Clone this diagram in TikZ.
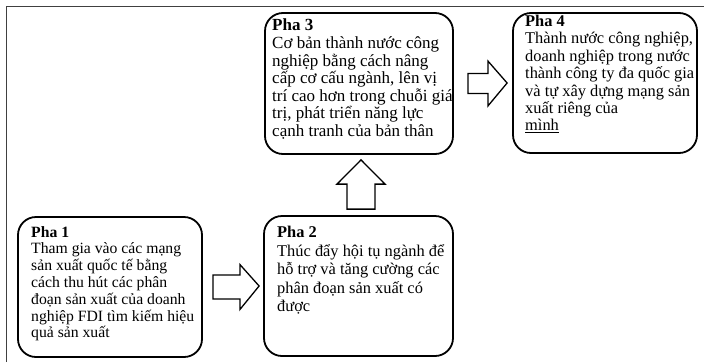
\documentclass[tikz,border=0pt]{standalone}
\usepackage{fontspec}
\setmainfont{Liberation Serif}
\usetikzlibrary{calc}
\tikzset{
  phasebox/.style={draw=black, line width=1.8pt, rounded corners=18pt, inner sep=0pt},
  phasetext/.style={anchor=north west, inner sep=0pt, align=left},
  blockarrow/.style={draw=black, line width=1.3pt, fill=white, line join=miter},
  frameline/.style={draw=black!75, line width=1pt}
}
\begin{document}
\begin{tikzpicture}[x=1pt,y=-1pt]
\useasboundingbox (0,0) rectangle (704,362);
% outer frame (top and left edges)
\coordinate (fTL) at (6,6);
\coordinate (fTR) at (704,6);
\coordinate (fBL) at (6,362);
\draw[frameline] (fBL) -- (fTL) -- (fTR);

% boxes
\node[phasebox, minimum width=184pt, minimum height=140pt] (b1) at (110,287) {};
\node[phasebox, minimum width=189pt, minimum height=140pt] (b2) at (358.5,286) {};
\node[phasebox, minimum width=188pt, minimum height=141pt] (b3) at (359,83.5) {};
\node[phasebox, minimum width=184pt, minimum height=140pt] (b4) at (605,83) {};

% texts
\node[phasetext, font=\fontsize{15.7}{16.8}\selectfont] (t1) at (31,226)
 {\textbf{Pha 1}\\Tham gia vào các mạng\\sản xuất quốc tế bằng\\cách thu hút các phân\\đoạn sản xuất của doanh\\nghiệp FDI tìm kiếm hiệu\\quả sản xuất};
\node[phasetext, font=\fontsize{16.4}{18.5}\selectfont] (t2) at (277,226)
 {\textbf{Pha 2}\\Thúc đẩy hội tụ ngành để\\hỗ trợ và tăng cường các\\phân đoạn sản xuất có\\được};
\node[phasetext, font=\fontsize{17}{17.6}\selectfont] (t3) at (272,19)
 {\textbf{Pha 3}\\Cơ bản thành nước công\\nghiệp bằng cách nâng\\cấp cơ cấu ngành, lên vị\\trí cao hơn trong chuỗi giá\\trị, phát triển năng lực\\cạnh tranh của bản thân};
\node[phasetext, font=\fontsize{16.4}{17.4}\selectfont] (t4) at (525,15)
 {\textbf{Pha 4}\\Thành nước công nghiệp,\\doanh nghiệp trong nước\\thành công ty đa quốc gia\\và tự xây dựng mạng sản\\xuất riêng của\\\underline{mình}};

% block arrows
\draw[blockarrow] ($(b1.east)+(10,-12)$) -- ($(b1.east)+(37,-12)$) -- ($(b1.east)+(37,-22.5)$)
  -- ($(b2.west)+(-4,0)$) -- ($(b1.east)+(37,22.5)$) -- ($(b1.east)+(37,12)$)
  -- ($(b1.east)+(10,12)$) -- cycle;
\draw[blockarrow] ($(b2.north)+(-11.5,-6)$) -- ($(b2.north)+(-11.5,-31)$) -- ($(b2.north)+(-21.5,-31)$)
  -- ($(b3.south)+(2,5)$) -- ($(b2.north)+(26.5,-31)$) -- ($(b2.north)+(16.5,-31)$)
  -- ($(b2.north)+(16.5,-6)$) -- cycle;
\draw[blockarrow] ($(b3.east)+(14,-10)$) -- ($(b3.east)+(34,-10)$) -- ($(b3.east)+(34,-22.5)$)
  -- ($(b4.west)+(-5,0)$) -- ($(b3.east)+(34,22.5)$) -- ($(b3.east)+(34,10)$)
  -- ($(b3.east)+(14,10)$) -- cycle;
\end{tikzpicture}
\end{document}
